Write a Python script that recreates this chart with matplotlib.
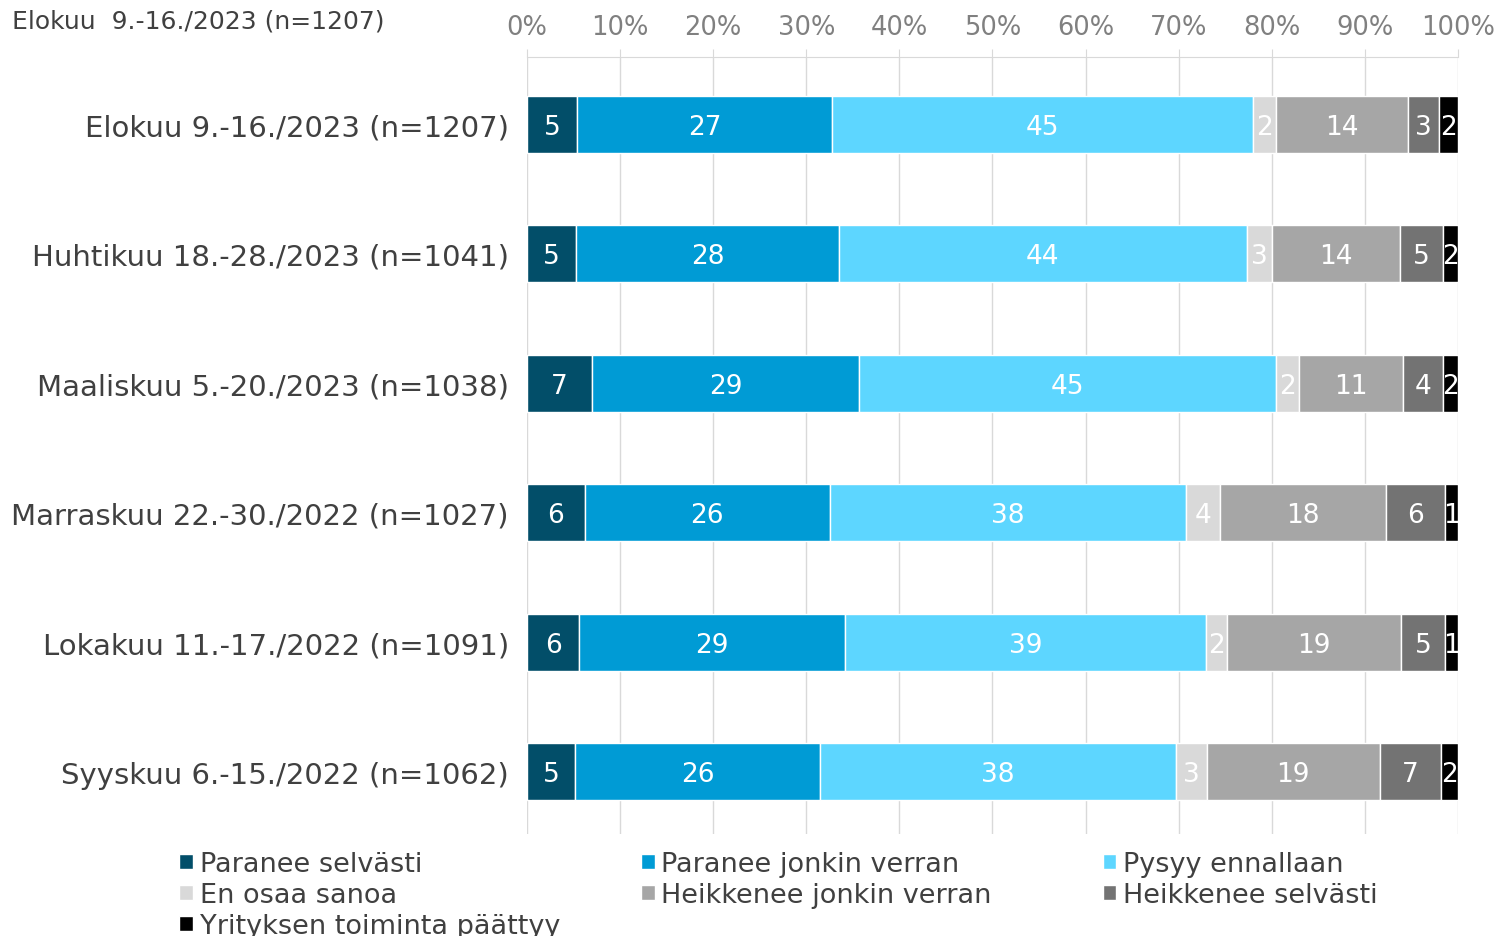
import matplotlib.pyplot as plt
import numpy as np

# Survey periods, top to bottom
periods = ["Elokuu 9.-16./2023 (n=1207)",
           "Huhtikuu 18.-28./2023 (n=1041)",
           "Maaliskuu 5.-20./2023 (n=1038)",
           "Marraskuu 22.-30./2022 (n=1027)",
           "Lokakuu 11.-17./2022 (n=1091)",
           "Syyskuu 6.-15./2022 (n=1062)"]

series_names = ["Paranee selvästi", "Paranee jonkin verran", "Pysyy ennallaan",
                "En osaa sanoa", "Heikkenee jonkin verran", "Heikkenee selvästi",
                "Yrityksen toiminta päättyy"]

paranee_selvasti = [5.4, 5.3, 7.0, 6.2, 5.6, 5.2]
paranee_jonkin   = [27.4, 28.2, 28.7, 26.3, 28.6, 26.3]
pysyy_ennallaan  = [45.2, 43.8, 44.8, 38.3, 38.7, 38.2]
en_osaa_sanoa    = [2.4, 2.7, 2.4, 3.6, 2.3, 3.3]
heikkenee_jonkin = [14.2, 13.8, 11.2, 17.9, 18.7, 18.6]
heikkenee_selv   = [3.4, 4.6, 4.3, 6.3, 4.7, 6.6]
paattyy          = [2.0, 1.6, 1.6, 1.4, 1.4, 1.8]

colors = ["#024E69", "#009BD5", "#5DD6FF", "#D9D9D9", "#A6A6A6", "#737373", "#000000"]

plt.rcParams['font.family'] = ['DejaVu Sans']

fig = plt.figure(figsize=(15.04, 9.37), dpi=100)
ax = fig.add_axes([0.3504, 0.1089, 0.619, 0.8292])

data = [paranee_selvasti, paranee_jonkin, pysyy_ennallaan, en_osaa_sanoa,
        heikkenee_jonkin, heikkenee_selv, paattyy]
y = np.arange(len(periods))
left = np.zeros(len(periods))
handles = []
for name, vals, c in zip(series_names, data, colors):
    vals = np.array(vals)
    bars = ax.barh(y, vals, left=left, height=0.44, color=c, edgecolor="white",
                   linewidth=1, label=name, zorder=3)
    handles.append(bars)
    for yi, l, v in zip(y, left, vals):
        ax.text(l + v / 2, yi + 0.02, f"{v:.0f}", ha="center", va="center",
                color="white", fontsize=19, zorder=4)
    left += vals

ax.set_xlim(0, 100)
ax.set_ylim(5.48, -0.52)
ax.set_yticks(y)
ax.set_yticklabels(periods, fontsize=21, color="#404040", va="center_baseline")
ax.tick_params(axis="y", length=0, pad=13)
ax.xaxis.tick_top()
ax.set_xticks(np.arange(0, 101, 10))
ax.set_xticklabels([f"{v}%" for v in range(0, 101, 10)], fontsize=18.5, color="#808080")
ax.tick_params(axis="x", length=6, color="#D9D9D9", pad=6)
ax.grid(axis="x", color="#D9D9D9", linewidth=1, zorder=0)
for s in ["left", "right", "bottom"]:
    ax.spines[s].set_visible(False)
ax.spines["top"].set_color("#D9D9D9")

fig.text(0.008, 0.977, "Elokuu  9.-16./2023 (n=1207)", fontsize=18,
         color="#404040", ha="left", va="center")

# legend in three fixed-width columns, filled row by row
columns = [[0, 3, 6], [1, 4], [2, 5]]
col_x = [0.112, 0.419, 0.726]
for cols, x0 in zip(columns, col_x):
    leg = fig.legend([handles[i] for i in cols], [series_names[i] for i in cols],
                     loc="upper left", bbox_to_anchor=(x0, 0.102), ncol=1,
                     frameon=False, fontsize=19.5, handlelength=0.5, handleheight=0.5,
                     handletextpad=0.25, labelspacing=0.18, borderaxespad=0)
    for t in leg.get_texts():
        t.set_color("#404040")

fig.savefig("out.png", dpi=100)
